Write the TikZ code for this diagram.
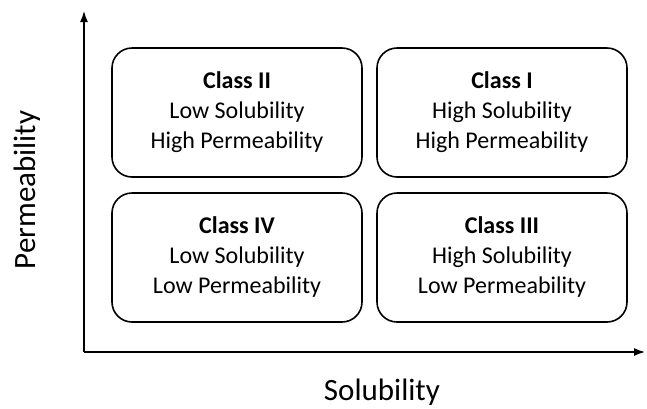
\documentclass[tikz,border=0pt]{standalone}
\usepackage{fontspec}
\setmainfont{Carlito}
\usetikzlibrary{arrows.meta,positioning}
\tikzset{
  classbox/.style={draw, line width=1.6pt, rounded corners=20pt,
    minimum width=250pt, minimum height=129pt, align=center,
    font=\fontsize{24}{30}\selectfont},
  axis/.style={line width=2.5pt, -{Latex[length=12pt,width=8pt]}},
  axislabel/.style={font=\fontsize{31}{36}\selectfont}
}
\begin{document}
\begin{tikzpicture}[x=1pt,y=-1pt,node distance=145pt and 265pt,on grid]
  \useasboundingbox (0,0) rectangle (647,408);
  % the four classes
  \node[classbox] (c2) at (237,112.5) {\textbf{Class II}\\Low Solubility\\High Permeability};
  \node[classbox] (c1) [right=of c2] {\textbf{Class I}\\High Solubility\\High Permeability};
  \node[classbox] (c4) [below=of c2] {\textbf{Class IV}\\Low Solubility\\Low Permeability};
  \node[classbox] (c3) [below=of c1] {\textbf{Class III}\\High Solubility\\Low Permeability};
  % axes
  \coordinate (o) at (84,352);
  \coordinate (ytip) at (84,10);
  \coordinate (xtip) at (646,352);
  \draw[axis] (o) -- (ytip);
  \draw[axis] (o) -- (xtip);
  \node[axislabel] (xl) at (382,392) {Solubility};
  \node[axislabel,rotate=90] (yl) at (27,190) {Permeability};
\end{tikzpicture}
\end{document}
